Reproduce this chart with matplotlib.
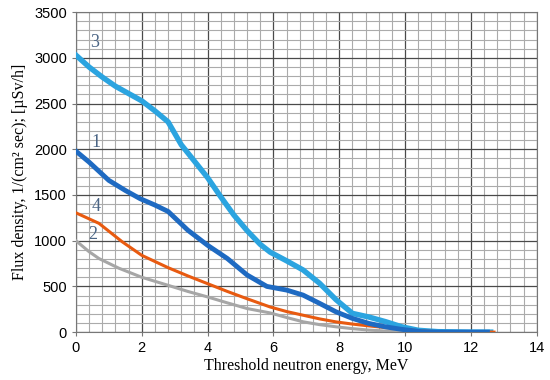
import matplotlib.pyplot as plt
from matplotlib.ticker import MultipleLocator

# curve 3
x3 = [0, 0.4, 0.8, 1.2, 1.6, 2.0, 2.4, 2.8, 3.2, 3.6, 4.0, 4.4, 4.8, 5.2, 5.6, 5.9, 6.4, 6.9, 7.4, 7.9, 8.4, 8.9, 9.4, 9.9, 10.4, 11.0, 12.0, 12.6]
y3 = [3030, 2900, 2790, 2690, 2610, 2530, 2420, 2300, 2050, 1870, 1690, 1480, 1280, 1110, 960, 875, 780, 680, 535, 355, 205, 165, 115, 58, 20, 5, 0, 0]
# curve 1
x1 = [0, 0.4, 0.7, 1.0, 1.5, 1.95, 2.4, 2.8, 3.4, 4.0, 4.6, 5.2, 5.8, 6.4, 6.9, 7.4, 7.9, 8.4, 8.9, 9.4, 9.9, 10.5, 11.0, 12.0, 12.5]
y1 = [1980, 1860, 1760, 1660, 1550, 1460, 1390, 1320, 1115, 950, 805, 625, 500, 460, 405, 315, 222, 150, 95, 58, 30, 5, 0, 0, 0]
# curve 4
x4 = [0, 0.7, 1.4, 2.0, 2.8, 3.4, 4.0, 4.6, 5.2, 5.9, 6.4, 6.9, 7.4, 7.9, 8.4, 8.9, 9.4, 9.9, 10.5, 11.0, 12.0, 12.7]
y4 = [1305, 1190, 990, 840, 705, 615, 530, 445, 365, 275, 225, 185, 145, 112, 88, 68, 50, 32, 12, 5, 2, 0]
# curve 2
x2 = [0, 0.4, 0.7, 1.3, 2.0, 2.8, 3.4, 4.0, 4.6, 5.2, 5.9, 6.4, 6.9, 7.4, 7.9, 8.4, 8.9, 9.5, 10.0, 11.0, 12.0, 12.5]
y2 = [1000, 880, 805, 700, 600, 512, 445, 385, 320, 258, 210, 160, 113, 82, 58, 38, 22, 10, 4, 0, 0, 0]

labels = ['3', '1', '4', '2']
label_x = [0.58, 0.6, 0.6, 0.52]
label_y = [3080, 1980, 1280, 970]

fig = plt.figure(figsize=(5.5, 3.8), dpi=100)
ax = fig.add_axes([0.138, 0.126, 0.838, 0.842])

ax.plot(x3, y3, color='#2BA4E0', lw=3.9, solid_joinstyle='round', zorder=3)
ax.plot(x1, y1, color='#1E6AC2', lw=3.5, solid_joinstyle='round', zorder=4)
ax.plot(x4, y4, color='#E85A10', lw=2.2, solid_joinstyle='round', zorder=3)
ax.plot(x2, y2, color='#A6A6A6', lw=2.2, solid_joinstyle='round', zorder=3)

for t, lx, ly in zip(labels, label_x, label_y):
    ax.text(lx, ly, t, fontsize=13, family='Liberation Serif', color='#4B6585',
            ha='center', va='bottom', zorder=5)

ax.set_xlim(0, 14)
ax.set_ylim(0, 3500)
ax.xaxis.set_major_locator(MultipleLocator(2))
ax.xaxis.set_minor_locator(MultipleLocator(0.4))
ax.yaxis.set_major_locator(MultipleLocator(500))
ax.yaxis.set_minor_locator(MultipleLocator(100))
ax.grid(which='major', color='#4A4A4A', lw=0.9, zorder=1)
ax.grid(which='minor', color='#ABABAB', lw=0.8, zorder=1)
ax.set_axisbelow(True)
for s in ax.spines.values():
    s.set_color('#777777')
ax.tick_params(which='minor', length=0)
ax.tick_params(which='major', length=3, color='#777777', labelsize=10.5)
for lab in ax.get_xticklabels() + ax.get_yticklabels():
    lab.set_family('Liberation Sans')

ax.set_xlabel('Threshold neutron energy, MeV', family='Liberation Serif', fontsize=11.5, labelpad=2)
ax.set_ylabel('Flux density, 1/(cm² sec); [µSv/h]', family='Liberation Serif', fontsize=11.5, labelpad=4)

fig.savefig('out.png', dpi=100)
